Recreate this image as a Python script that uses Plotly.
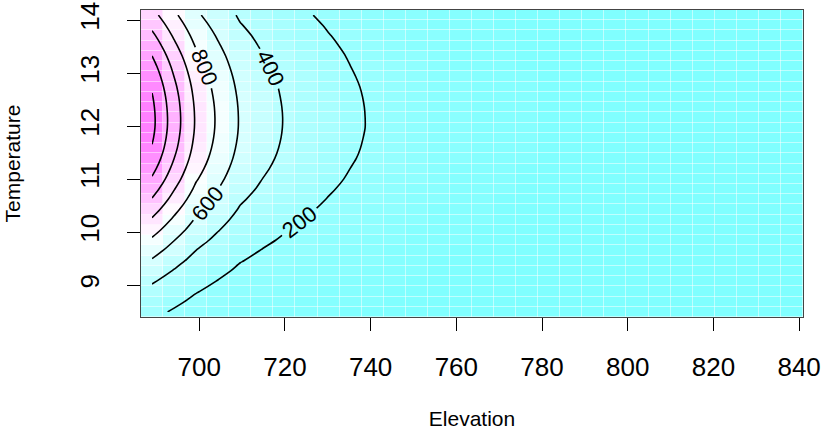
import plotly.graph_objects as go

# Grid centres (vis.gam style 30 x 30 prediction grid)
elevation = [688.98, 694.13, 699.28, 704.43, 709.58, 714.73, 719.88, 725.03, 730.18, 735.33,
             740.48, 745.63, 750.78, 755.93, 761.08, 766.23, 771.38, 776.53, 781.68, 786.83,
             791.98, 797.13, 802.28, 807.43, 812.58, 817.73, 822.88, 828.03, 833.18, 838.33]
temperature = [8.497, 8.690, 8.883, 9.076, 9.269, 9.462, 9.655, 9.848, 10.041, 10.234,
               10.427, 10.620, 10.813, 11.006, 11.199, 11.392, 11.585, 11.778, 11.971, 12.164,
               12.357, 12.550, 12.743, 12.936, 13.129, 13.322, 13.515, 13.708, 13.901, 14.094]

# Fitted surface, one row per temperature (lowest first), one value per elevation
z = [
    [236, 185, 140, 110, 84, 68, 56, 47, 39, 32, 27, 21, 17, 13, 10, 8, 6, 5, 4, 3, 3, 2, 2, 1, 1, 1, 1, 1, 1, 0],
    [289, 226, 171, 135, 102, 84, 69, 57, 47, 39, 33, 26, 21, 16, 13, 10, 8, 6, 5, 4, 3, 3, 2, 2, 1, 1, 1, 1, 1, 0],
    [350, 274, 207, 163, 124, 102, 83, 69, 57, 48, 40, 32, 25, 20, 15, 12, 10, 8, 6, 5, 4, 3, 3, 2, 2, 1, 1, 1, 1, 1],
    [419, 329, 248, 195, 148, 122, 100, 83, 69, 57, 47, 38, 30, 23, 18, 14, 11, 9, 7, 6, 5, 4, 3, 3, 2, 2, 1, 1, 1, 1],
    [497, 389, 294, 231, 176, 144, 118, 98, 82, 68, 56, 45, 36, 28, 22, 17, 14, 11, 9, 7, 6, 5, 4, 3, 2, 2, 2, 1, 1, 1],
    [581, 455, 344, 271, 206, 169, 138, 115, 95, 79, 66, 53, 42, 32, 25, 20, 16, 13, 10, 8, 7, 5, 4, 4, 3, 2, 2, 2, 1, 1],
    [673, 528, 399, 314, 238, 195, 160, 133, 111, 92, 76, 61, 48, 38, 29, 23, 18, 15, 12, 9, 8, 6, 5, 4, 3, 3, 2, 2, 1, 1],
    [771, 604, 456, 359, 273, 224, 184, 152, 127, 105, 87, 70, 55, 43, 34, 27, 21, 17, 14, 11, 9, 7, 6, 5, 4, 3, 2, 2, 2, 1],
    [873, 685, 517, 407, 309, 253, 208, 172, 143, 119, 99, 79, 62, 49, 38, 30, 24, 19, 15, 12, 10, 8, 6, 5, 4, 3, 3, 2, 2, 1],
    [978, 767, 579, 456, 346, 284, 233, 193, 161, 133, 111, 89, 70, 55, 43, 34, 27, 21, 17, 14, 11, 9, 7, 6, 5, 4, 3, 3, 2, 2],
    [1084, 850, 642, 505, 384, 315, 258, 214, 178, 148, 123, 99, 78, 60, 47, 37, 30, 24, 19, 15, 12, 10, 8, 7, 5, 4, 3, 3, 2, 2],
    [1188, 932, 703, 554, 420, 345, 283, 235, 195, 162, 135, 108, 85, 66, 52, 41, 32, 26, 21, 17, 14, 11, 9, 7, 6, 5, 4, 3, 3, 2],
    [1287, 1009, 762, 600, 456, 374, 307, 254, 211, 176, 146, 117, 92, 72, 56, 44, 35, 28, 23, 18, 15, 12, 9, 8, 6, 5, 4, 3, 3, 2],
    [1379, 1082, 817, 643, 488, 400, 329, 273, 227, 188, 156, 125, 99, 77, 60, 48, 38, 30, 24, 19, 16, 13, 10, 8, 7, 5, 4, 4, 3, 2],
    [1460, 1145, 865, 681, 517, 424, 348, 289, 240, 199, 165, 133, 104, 81, 64, 50, 40, 32, 26, 20, 17, 13, 11, 9, 7, 6, 5, 4, 3, 2],
    [1531, 1201, 907, 714, 542, 445, 365, 303, 251, 209, 174, 139, 110, 85, 67, 53, 42, 33, 27, 21, 18, 14, 11, 9, 7, 6, 5, 4, 3, 3],
    [1586, 1244, 939, 739, 561, 460, 378, 313, 260, 216, 180, 144, 113, 88, 69, 55, 43, 35, 28, 22, 18, 14, 12, 10, 8, 6, 5, 4, 3, 3],
    [1624, 1273, 961, 757, 575, 471, 387, 321, 267, 221, 184, 148, 116, 91, 71, 56, 44, 35, 29, 23, 19, 15, 12, 10, 8, 6, 5, 4, 3, 3],
    [1647, 1291, 975, 767, 583, 478, 392, 325, 270, 225, 187, 150, 118, 92, 72, 57, 45, 36, 29, 23, 19, 15, 12, 10, 8, 6, 5, 4, 3, 3],
    [1650, 1294, 977, 769, 584, 479, 393, 326, 271, 225, 187, 150, 118, 92, 72, 57, 45, 36, 29, 23, 19, 15, 12, 10, 8, 6, 5, 4, 3, 3],
    [1638, 1285, 970, 764, 580, 476, 390, 324, 269, 223, 186, 149, 117, 91, 71, 57, 45, 36, 29, 23, 19, 15, 12, 10, 8, 6, 5, 4, 3, 3],
    [1614, 1266, 955, 752, 571, 468, 384, 319, 265, 220, 183, 147, 115, 90, 70, 56, 44, 35, 28, 22, 19, 15, 12, 10, 8, 6, 5, 4, 3, 3],
    [1577, 1237, 934, 735, 558, 458, 376, 312, 259, 215, 179, 143, 113, 88, 69, 54, 43, 34, 28, 22, 18, 14, 11, 10, 8, 6, 5, 4, 3, 3],
    [1528, 1198, 905, 712, 541, 444, 364, 302, 251, 208, 173, 139, 109, 85, 67, 53, 42, 33, 27, 21, 18, 14, 11, 9, 7, 6, 5, 4, 3, 3],
    [1469, 1152, 870, 684, 520, 426, 350, 290, 241, 200, 166, 134, 105, 82, 64, 51, 40, 32, 26, 20, 17, 13, 11, 9, 7, 6, 5, 4, 3, 2],
    [1401, 1099, 829, 653, 496, 407, 334, 277, 230, 191, 159, 127, 100, 78, 61, 48, 38, 31, 25, 20, 16, 13, 10, 8, 7, 6, 4, 4, 3, 2],
    [1323, 1038, 784, 617, 468, 384, 315, 261, 217, 180, 150, 120, 95, 74, 58, 46, 36, 29, 23, 18, 15, 12, 10, 8, 6, 5, 4, 3, 3, 2],
    [1242, 974, 736, 579, 440, 361, 296, 245, 204, 169, 141, 113, 89, 69, 54, 43, 34, 27, 22, 17, 14, 11, 9, 8, 6, 5, 4, 3, 3, 2],
    [1155, 906, 684, 538, 409, 335, 275, 228, 190, 158, 131, 105, 83, 64, 50, 40, 32, 25, 20, 16, 13, 11, 8, 7, 6, 5, 4, 3, 2, 2],
    [1066, 836, 631, 497, 377, 309, 254, 211, 175, 145, 121, 97, 76, 59, 47, 37, 29, 23, 19, 15, 12, 10, 8, 6, 5, 4, 3, 3, 2, 2],
]

x_ticks = [700, 720, 740, 760, 780, 800, 820, 840]
y_ticks = [9, 10, 11, 12, 13, 14]
contour_levels = dict(start=200, end=1600, size=200)

# R cm.colors(50) discrete palette
n_col = 50
half = n_col // 2
pal = []
for i in range(half):
    s = 0.5 - i * (0.5 / half)
    v = round(255 * (1 - s))
    pal.append(f"rgb({v},255,255)")
for i in range(1, n_col - half + 1):
    s = i * (0.5 / half)
    v = round(255 * (1 - s))
    pal.append(f"rgb(255,{v},255)")
colorscale = []
for i, c in enumerate(pal):
    colorscale.append([i / n_col, c])
    colorscale.append([(i + 1) / n_col, c])

zmin = min(min(r) for r in z)
zmax = max(max(r) for r in z)

fig = go.Figure()
fig.add_trace(go.Heatmap(
    x=elevation, y=temperature, z=z,
    colorscale=colorscale, zmin=zmin, zmax=zmax,
    showscale=False, xgap=0.5, ygap=0.5, hoverinfo="skip",
))
fig.add_trace(go.Contour(
    x=elevation, y=temperature, z=z,
    contours=dict(coloring="none", showlabels=True,
                  labelfont=dict(size=22, color="black", family="Liberation Sans, Arial, sans-serif"),
                  **contour_levels),
    line=dict(color="black", width=1.6, smoothing=0.8),
    showscale=False, hoverinfo="skip",
))

font = "Liberation Sans, Arial, Helvetica, sans-serif"
fig.update_layout(
    width=826, height=431,
    margin=dict(l=141, r=23, t=10, b=114, autoexpand=False),
    paper_bgcolor="white", plot_bgcolor="white",
    font=dict(family=font, color="black"),
    showlegend=False,
    xaxis=dict(
        range=[686.405, 840.905], tickvals=x_ticks, ticktext=[str(v) for v in x_ticks],
        ticks="outside", ticklen=13, tickwidth=1, tickcolor="black",
        tickfont=dict(size=26), ticklabelstandoff=14, automargin=False,
        showgrid=False, zeroline=False, showline=True, mirror=True,
        linecolor="#444", linewidth=1,
        title=dict(text="Elevation", font=dict(size=21), standoff=30),
    ),
    yaxis=dict(
        range=[8.4005, 14.1905], tickvals=y_ticks, ticktext=[str(v) for v in y_ticks],
        ticks="outside", ticklen=13, tickwidth=1, tickcolor="black",
        tickfont=dict(size=26), tickangle=-90, ticklabelstandoff=18, automargin=False,
        showgrid=False, zeroline=False, showline=True, mirror=True,
        linecolor="#444", linewidth=1,
        title=dict(text="Temperature", font=dict(size=21), standoff=48),
    ),
)

fig.write_html("out.html")
